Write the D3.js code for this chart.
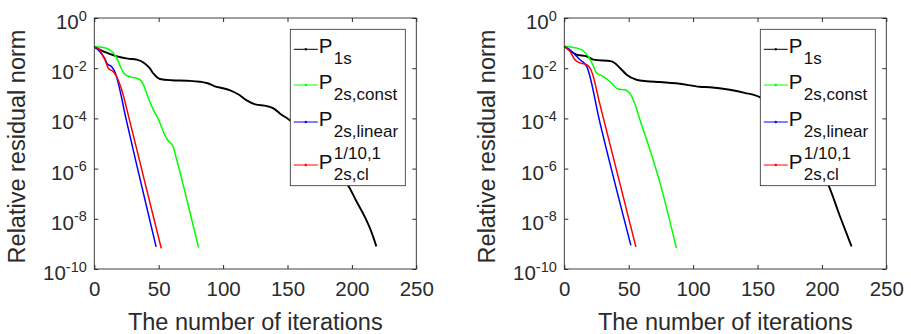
<!DOCTYPE html>
<html>
<head>
<meta charset="utf-8">
<script src="https://cdn.jsdelivr.net/npm/d3@7"></script>
<style>
  body { margin: 0; background: #fff; }
  svg { display: block; font-family: "Liberation Sans", Arial, Helvetica, sans-serif; }
</style>
</head>
<body>
<svg id="chart" width="911" height="334"></svg>
<script>
// residuals are stored as log10 exponents

// left panel
const p1sLeftIter = [0, 8, 17, 26, 33, 39, 43, 46, 51, 60, 72, 82, 88, 93, 100, 105, 112, 118, 125, 134, 140, 144, 151, 160, 170, 180, 190, 198, 203, 210, 215, 219];
const p1sLeftExp  = [-1.15, -1.35, -1.52, -1.62, -1.66, -1.8, -2.0, -2.22, -2.43, -2.48, -2.5, -2.54, -2.6, -2.71, -2.8, -2.87, -3.05, -3.27, -3.44, -3.51, -3.63, -3.8, -4.04, -4.4, -4.9, -5.5, -6.2, -6.75, -7.25, -7.92, -8.5, -9.1];
const constLeftIter = [0, 6, 12, 17, 20, 23, 26, 30, 34, 37, 40, 42, 46, 50, 54, 57, 61, 64, 70, 75, 81];
const constLeftExp  = [-1.15, -1.17, -1.27, -1.55, -1.9, -2.2, -2.31, -2.37, -2.42, -2.55, -2.9, -3.2, -3.67, -4.06, -4.58, -4.87, -5.1, -5.65, -6.85, -7.9, -9.15];
const linearLeftIter = [0, 4, 8, 10, 13.5, 16, 25, 32, 48];
const linearLeftExp  = [-1.15, -1.32, -1.6, -1.82, -1.94, -2.15, -4.1, -5.65, -9.12];
const clLeftIter = [0, 4.4, 7, 8.3, 10.9, 14.8, 17.4, 21.3, 27.5, 40, 52];
const clLeftExp  = [-1.15, -1.27, -1.55, -1.67, -2.0, -2.14, -2.34, -2.87, -4.1, -6.7, -9.18];

// right panel
const p1sRightIter = [0, 9.6, 17.4, 22.5, 36.8, 43.2, 48.4, 56.1, 63.9, 74.2, 89.7, 105, 113, 128.5, 140, 152, 165, 180, 195, 205.5, 214, 223];
const p1sRightExp  = [-1.13, -1.46, -1.53, -1.66, -1.73, -1.99, -2.26, -2.46, -2.52, -2.55, -2.62, -2.74, -2.76, -2.86, -2.98, -3.16, -3.7, -4.5, -5.7, -6.71, -7.9, -9.1];
const constRightIter = [0, 12.2, 18.6, 22, 25.1, 29, 35.4, 41.9, 47.1, 52.3, 55, 58.7, 66.5, 74.3, 87];
const constRightExp  = [-1.13, -1.24, -1.53, -1.85, -2.19, -2.3, -2.53, -2.83, -2.86, -3.12, -3.45, -4.05, -5.25, -6.57, -9.17];
const linearRightIter = [0, 4, 8.3, 12.2, 17.4, 27.7, 51.7];
const linearRightExp  = [-1.13, -1.25, -1.46, -1.66, -1.93, -4.18, -9.06];
const clRightIter = [0, 4, 8.3, 12.2, 17.4, 21.2, 27.7, 55.6];
const clRightExp  = [-1.13, -1.3, -1.66, -1.79, -1.86, -2.13, -3.45, -9.12];

const xTicks = [0, 50, 100, 150, 200, 250];
const yTickExps = [0, -2, -4, -6, -8, -10];
const legendNames = ["1s", "2s,const", "2s,linear", "2s,cl"];
const legendSup = [null, null, null, "1/10,1"];
const seriesColors = ["#000000", "#00ff00", "#0000ff", "#ff0000"];

const panels = [
  { left: 94.3, series: [[p1sLeftIter, p1sLeftExp], [constLeftIter, constLeftExp], [linearLeftIter, linearLeftExp], [clLeftIter, clLeftExp]] },
  { left: 564.3, series: [[p1sRightIter, p1sRightExp], [constRightIter, constRightExp], [linearRightIter, linearRightExp], [clRightIter, clRightExp]] }
];

const svg = d3.select("#chart");
const plotW = 322, plotTop = 18, plotBottom = 269;
const axisColor = "#2b2b2b";

panels.forEach(p => {
  const g = svg.append("g");
  const x = d3.scaleLinear().domain([0, 250]).range([p.left, p.left + plotW]);
  const y = d3.scaleLog().domain([1e-10, 1]).range([plotBottom, plotTop]);

  const line = d3.line()
    .curve(d3.curveMonotoneX)
    .x(d => x(d[0]))
    .y(d => y(Math.pow(10, d[1])));

  p.series.forEach((s, i) => {
    const pts = s[0].map((it, k) => [it, s[1][k]]);
    g.append("path")
      .datum(pts)
      .attr("fill", "none")
      .attr("stroke", seriesColors[i])
      .attr("stroke-width", i === 0 ? 1.9 : 1.5)
      .attr("stroke-linejoin", "round")
      .attr("d", line);
  });

  // legend
  const lx = p.left + 196, ly = 29.3, lw = 115, lh = 156.4;
  const lg = g.append("g");
  lg.append("rect")
    .attr("x", lx).attr("y", ly).attr("width", lw).attr("height", lh)
    .attr("fill", "#fff").attr("stroke", axisColor).attr("stroke-width", 0.8);
  const baselines = [53.3, 89, 126, 169];
  legendNames.forEach((name, i) => {
    const by = baselines[i];
    const ty = by - 4;
    lg.append("line")
      .attr("x1", lx + 3.5).attr("x2", lx + 27.5)
      .attr("y1", ty).attr("y2", ty)
      .attr("stroke", seriesColors[i]).attr("stroke-width", 1);
    lg.append("circle")
      .attr("cx", lx + 15.5).attr("cy", ty).attr("r", 1.2)
      .attr("fill", seriesColors[i]);
    lg.append("text")
      .attr("x", lx + 28.5).attr("y", by)
      .attr("font-size", 20.5).attr("fill", "#111")
      .text("P");
    lg.append("text")
      .attr("x", lx + 43.5).attr("y", by + 11)
      .attr("font-size", 17).attr("fill", "#111")
      .text(name);
    if (legendSup[i]) {
      lg.append("text")
        .attr("x", lx + 43.5).attr("y", by - 9.7)
        .attr("font-size", 17).attr("fill", "#111")
        .text(legendSup[i]);
    }
  });

  // axes box and inward ticks
  const gx = g.append("g")
    .attr("transform", `translate(0,${plotBottom})`)
    .call(d3.axisBottom(x).tickValues(xTicks).tickSize(-4).tickPadding(12.5).tickFormat(d3.format("d")));
  gx.select(".domain").remove();
  gx.selectAll(".tick line").attr("stroke", axisColor);
  gx.selectAll(".tick text").attr("font-size", 20.5).attr("fill", axisColor);
  gx.attr("font-family", null).attr("font-size", null);

  const gt = g.append("g")
    .attr("transform", `translate(0,${plotTop})`)
    .call(d3.axisTop(x).tickValues(xTicks).tickSize(-4).tickFormat(""));
  gt.select(".domain").remove();
  gt.selectAll(".tick line").attr("stroke", axisColor);

  const yVals = yTickExps.map(e => Math.pow(10, e));
  const gl = g.append("g")
    .attr("transform", `translate(${p.left},0)`)
    .call(d3.axisLeft(y).tickValues(yVals).tickSize(-4).tickFormat(""));
  gl.select(".domain").remove();
  gl.selectAll(".tick line").attr("stroke", axisColor);

  const gr = g.append("g")
    .attr("transform", `translate(${p.left + plotW},0)`)
    .call(d3.axisRight(y).tickValues(yVals).tickSize(-4).tickFormat(""));
  gr.select(".domain").remove();
  gr.selectAll(".tick line").attr("stroke", axisColor);

  g.append("rect")
    .attr("x", p.left).attr("y", plotTop).attr("width", plotW).attr("height", plotBottom - plotTop)
    .attr("fill", "none").attr("stroke", axisColor).attr("stroke-width", 0.9);

  // y tick labels with superscript exponents
  yTickExps.forEach(e => {
    const t = g.append("text")
      .attr("x", p.left - 7.5)
      .attr("y", y(Math.pow(10, e)) + 11)
      .attr("text-anchor", "end")
      .attr("fill", axisColor);
    t.append("tspan").attr("font-size", 20.5).text("10");
    t.append("tspan").attr("font-size", 14.5).attr("dy", -8.5).text(String(e));
  });

  // axis titles
  g.append("text")
    .attr("x", p.left + plotW / 2).attr("y", 329.5)
    .attr("text-anchor", "middle")
    .attr("font-size", 23.5).attr("fill", axisColor)
    .text("The number of iterations");
  g.append("text")
    .attr("transform", `translate(${p.left - 69.3},${(plotTop + plotBottom) / 2 + 3}) rotate(-90)`)
    .attr("text-anchor", "middle")
    .attr("font-size", 23.5).attr("fill", axisColor)
    .text("Relative residual norm");
});
</script>
</body>
</html>
